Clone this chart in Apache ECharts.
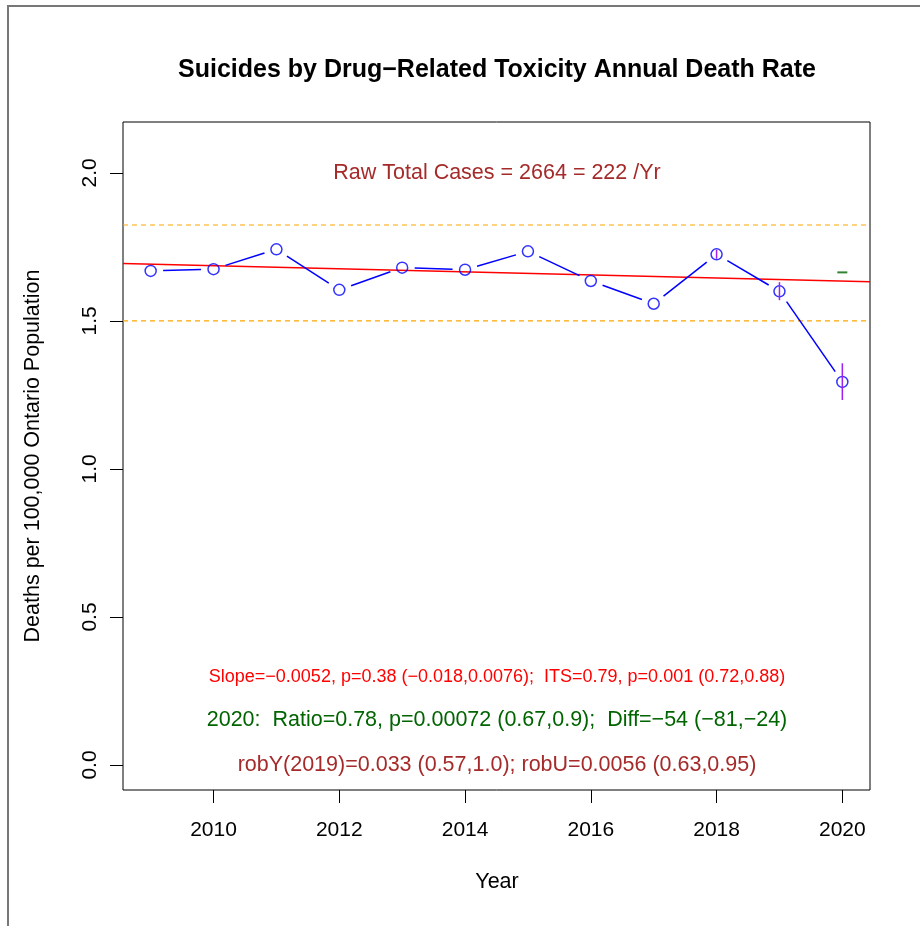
<!DOCTYPE html>
<html><head><meta charset="utf-8">
<script src="https://cdn.jsdelivr.net/npm/echarts@6/dist/echarts.min.js"></script>
<style>html,body{margin:0;padding:0;background:#fff}#c{width:920px;height:926px}</style>
</head><body><div id="c"></div>
<script>
// ---- data ----
const years = [2009, 2010, 2011, 2012, 2013, 2014, 2015, 2016, 2017, 2018, 2019, 2020];
const rates = [1.669, 1.675, 1.742, 1.605, 1.680, 1.673, 1.735, 1.635, 1.558, 1.725, 1.600, 1.294];
const errYears = [2018, 2019, 2020];
const errLow = [1.710, 1.570, 1.233];
const errHigh = [1.740, 1.631, 1.357];
const expectedYears = [2020];
const expectedRates = [1.664];
const trendAt2009 = 1.6916;
const trendSlope = -0.0052;
const refLines = [1.824, 1.5];
const xTicks = [2010, 2012, 2014, 2016, 2018, 2020];
const yTicks = [0, 0.5, 1.0, 1.5, 2.0];
const yTickLabels = ['0.0', '0.5', '1.0', '1.5', '2.0'];
const xRange = [2008.56, 2020.44];
const yRange = [-0.0845, 2.172];

const titleText = 'Suicides by Drug\u2212Related Toxicity Annual Death Rate';
const rawText = 'Raw Total Cases = 2664 = 222 /Yr';
const slopeText = 'Slope=\u22120.0052, p=0.38 (\u22120.018,0.0076);  ITS=0.79, p=0.001 (0.72,0.88)';
const ratioText = '2020:  Ratio=0.78, p=0.00072 (0.67,0.9);  Diff=\u221254 (\u221281,\u221224)';
const robText = 'robY(2019)=0.033 (0.57,1.0); robU=0.0056 (0.63,0.95)';
const xName = 'Year';
const yName = 'Deaths per 100,000 Ontario Population';

// ---- derived ----
const FONT = '"Liberation Sans", Arial, Helvetica, sans-serif';
const segData = years.slice(0, -1).map((y, i) => [y, rates[i], years[i + 1], rates[i + 1]]);
const errData = errYears.map((y, i) => [y, errLow[i], errHigh[i]]);
const trendData = xRange.map(x => [x, trendAt2009 + trendSlope * (x - 2009)]);

const refSeries = refLines.map(v => ({
  type: 'line', data: xRange.map(x => [x, v]), symbol: 'none', silent: true, z: 1,
  lineStyle: {color: '#ffa500', type: [5, 4], width: 1.2}
}));

const chart = echarts.init(document.getElementById('c'), null, {renderer: 'canvas'});
chart.setOption({
  animation: false,
  backgroundColor: '#fff',
  grid: {left: 123, top: 122, right: 50, bottom: 136, show: true, borderColor: '#000', borderWidth: 1, backgroundColor: 'transparent'},
  xAxis: {
    type: 'value', min: xRange[0], max: xRange[1],
    splitLine: {show: false}, axisLine: {show: false, onZero: false},
    axisTick: {show: true, length: 13, customValues: xTicks, lineStyle: {color: '#000', width: 1}},
    axisLabel: {customValues: xTicks, color: '#000', fontSize: 21, fontFamily: FONT, margin: 30,
      formatter: v => String(Math.round(v))}
  },
  yAxis: {
    type: 'value', min: yRange[0], max: yRange[1],
    splitLine: {show: false}, axisLine: {show: false, onZero: false},
    axisTick: {show: true, length: 13, customValues: yTicks, lineStyle: {color: '#000', width: 1}},
    axisLabel: {customValues: yTicks, color: '#000', fontSize: 21, fontFamily: FONT, margin: 22, rotate: 90,
      formatter: v => { const i = yTicks.findIndex(t => Math.abs(t - v) < 1e-9); return i >= 0 ? yTickLabels[i] : ''; }}
  },
  series: refSeries.concat([
    {
      type: 'line', data: trendData, symbol: 'none', silent: true,
      lineStyle: {color: '#ff0000', width: 1.5}, z: 2
    },
    {
      type: 'custom', data: segData, z: 3, silent: true,
      encode: {x: [0, 2], y: [1, 3]},
      renderItem: (params, api) => {
        const p0 = api.coord([api.value(0), api.value(1)]);
        const p1 = api.coord([api.value(2), api.value(3)]);
        const dx = p1[0] - p0[0], dy = p1[1] - p0[1];
        const L = Math.hypot(dx, dy), g = 12.5;
        if (L <= 2 * g) return null;
        const ux = dx / L, uy = dy / L;
        return {type: 'line', shape: {x1: p0[0] + ux * g, y1: p0[1] + uy * g, x2: p1[0] - ux * g, y2: p1[1] - uy * g},
          style: {stroke: '#0000ff', lineWidth: 1.5}};
      }
    },
    {
      type: 'scatter', data: years.map((y, i) => [y, rates[i]]), z: 4, silent: true,
      symbol: 'circle', symbolSize: 11,
      itemStyle: {color: 'rgba(0,0,0,0)', borderColor: '#0000ff', borderWidth: 1.5}
    },
    {
      type: 'custom', data: errData, z: 5, silent: true,
      encode: {x: 0, y: [1, 2]},
      renderItem: (params, api) => {
        const a = api.coord([api.value(0), api.value(1)]);
        const b = api.coord([api.value(0), api.value(2)]);
        return {type: 'line', shape: {x1: a[0], y1: a[1], x2: b[0], y2: b[1]}, style: {stroke: '#a020f0', lineWidth: 1.5}};
      }
    },
    {
      type: 'scatter', data: expectedYears.map((y, i) => [y, expectedRates[i]]), z: 5, silent: true,
      symbol: 'rect', symbolSize: [10, 2], itemStyle: {color: '#006400'}
    }
  ]),
  graphic: [
    {type: 'rect', z: -10, shape: {x: 8, y: 6, width: 1000, height: 1000}, style: {fill: 'none', stroke: '#777', lineWidth: 2}},
    {type: 'text', x: 497, y: 70, style: {text: titleText, font: 'bold 25px ' + FONT, fill: '#000', textAlign: 'center', textVerticalAlign: 'middle'}},
    {type: 'text', x: 497, y: 173, style: {text: rawText, font: '21.5px ' + FONT, fill: '#a52a2a', textAlign: 'center', textVerticalAlign: 'middle'}},
    {type: 'text', x: 497, y: 677, style: {text: slopeText, font: '18px ' + FONT, fill: '#ff0000', textAlign: 'center', textVerticalAlign: 'middle'}},
    {type: 'text', x: 497, y: 720, style: {text: ratioText, font: '21.5px ' + FONT, fill: '#006400', textAlign: 'center', textVerticalAlign: 'middle'}},
    {type: 'text', x: 497, y: 765, style: {text: robText, font: '21.5px ' + FONT, fill: '#a52a2a', textAlign: 'center', textVerticalAlign: 'middle'}},
    {type: 'text', x: 497, y: 882, style: {text: xName, font: '21.5px ' + FONT, fill: '#000', textAlign: 'center', textVerticalAlign: 'middle'}},
    {type: 'text', x: 33, y: 456, rotation: Math.PI / 2, style: {text: yName, font: '21.5px ' + FONT, fill: '#000', textAlign: 'center', textVerticalAlign: 'middle'}}
  ]
});
</script>
</body></html>
